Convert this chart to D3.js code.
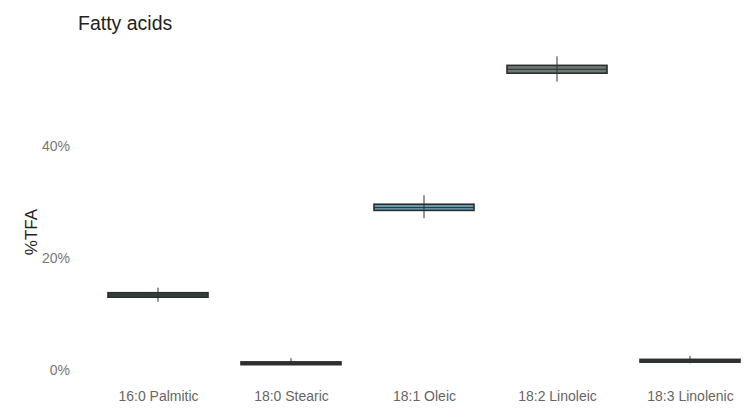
<!DOCTYPE html>
<html><head><meta charset="utf-8">
<script src="https://cdn.jsdelivr.net/npm/d3@7"></script>
<style>body{margin:0;background:#fff;}text{font-family:"Liberation Sans",Arial,sans-serif;}</style>
</head><body>
<svg id="c" width="748" height="414"></svg>
<script>
const categories = ["16:0 Palmitic","18:0 Stearic","18:1 Oleic","18:2 Linoleic","18:3 Linolenic"];
const whiskerLow = [12.2, 0.9, 27.1, 51.5, 1.2];
const q1 = [13.0, 0.95, 28.5, 53.0, 1.4];
const median = [13.4, 1.2, 29.0, 53.7, 1.65];
const q3 = [13.8, 1.45, 29.6, 54.4, 1.9];
const whiskerHigh = [14.7, 2.1, 31.2, 56.0, 2.5];
const fills = ["#3b5043","#3c3c3c","#6b9cb2","#6c7a73","#444444"];
const yTicks = [0, 20, 40];

const svg = d3.select("#c");
const x = d3.scalePoint().domain(categories).range([158, 690]);
const y = d3.scaleLinear().domain([0, 40]).range([370, 146]);
const boxW = 100;

svg.append("text").attr("x", 78).attr("y", 30).attr("font-size", 19.5).attr("fill", "#222").text("Fatty acids");
svg.append("text").attr("transform", "translate(37,232) rotate(-90)").attr("text-anchor", "middle")
  .attr("font-size", 17).attr("fill", "#222").text("%TFA");

const ya = svg.append("g").attr("transform", "translate(70,0)")
  .call(d3.axisLeft(y).tickValues(yTicks).tickFormat(d => d + "%").tickSize(0).tickPadding(0));
ya.select(".domain").remove();
ya.selectAll("text").attr("font-size", 14).attr("fill", "#777").attr("font-family", "Liberation Sans, Arial, sans-serif");

const xa = svg.append("g").attr("transform", "translate(0,385)")
  .call(d3.axisBottom(x).tickSize(0).tickPadding(6));
xa.select(".domain").remove();
xa.selectAll("text").attr("font-size", 14).attr("fill", "#666").attr("font-family", "Liberation Sans, Arial, sans-serif");

const data = categories.map((c, i) => ({c, lo: whiskerLow[i], q1: q1[i], med: median[i], q3: q3[i], hi: whiskerHigh[i], fill: fills[i]}));
const g = svg.append("g").selectAll("g").data(data).join("g");
g.append("rect")
  .attr("x", d => x(d.c) - boxW / 2).attr("width", boxW)
  .attr("y", d => y(d.q3)).attr("height", d => Math.max(2, y(d.q1) - y(d.q3)))
  .attr("fill", d => d.fill).attr("stroke", "#2a2e2c").attr("stroke-width", 1.6);
g.append("line")
  .attr("x1", d => x(d.c) - boxW / 2).attr("x2", d => x(d.c) + boxW / 2)
  .attr("y1", d => y(d.med)).attr("y2", d => y(d.med))
  .attr("stroke", "#2a2e2c").attr("stroke-width", 1);
g.append("line")
  .attr("x1", d => x(d.c)).attr("x2", d => x(d.c))
  .attr("y1", d => y(d.lo)).attr("y2", d => y(d.hi))
  .attr("stroke", "#333").attr("stroke-width", 1);
</script>
</body></html>
